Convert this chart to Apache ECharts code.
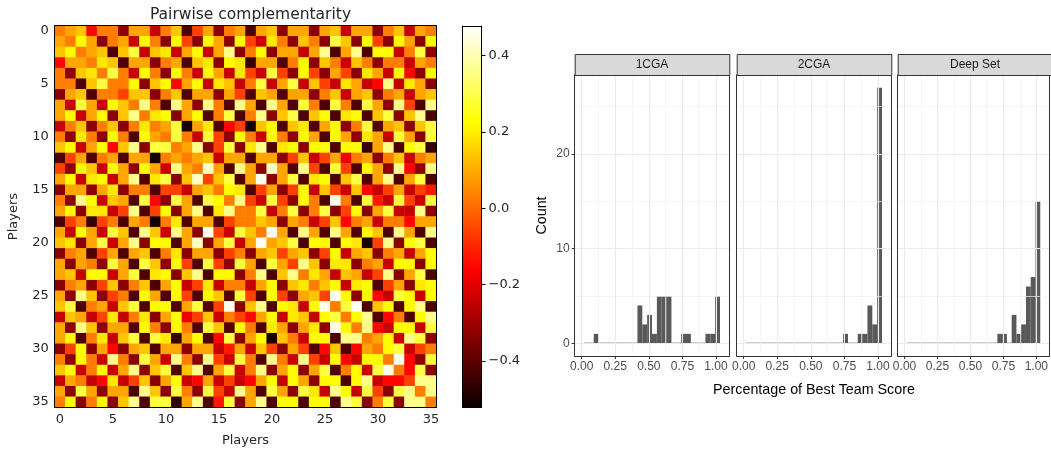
<!DOCTYPE html>
<html>
<head>
<meta charset="utf-8">
<style>html,body{margin:0;padding:0;background:#fff}#c{width:1051px;height:453px}</style>
<script src="https://cdn.jsdelivr.net/npm/echarts@6/dist/echarts.min.js"></script>
</head>
<body>
<div id="c"></div>
<script>
// Pairwise complementarity (hundredths). The matrix is symmetric: each row lists columns i..35.
const upperRows = [
[3,9,14,-15,3,3,-33,9,9,-24,3,14,-42,-6,9,-33,3,9,-42,9,14,-33,9,9,-33,9,14,-24,9,9,-33,3,14,-24,9,3],
[3,22,9,-33,3,9,-24,22,3,-33,22,-6,-33,22,9,-33,22,-6,-24,19,3,-33,14,3,-33,29,14,-33,22,-6,-33,22,9,-33,22],
[3,9,14,-42,14,29,-24,14,19,-24,9,22,-24,9,36,-33,3,22,-33,9,9,-24,9,36,-42,9,36,-42,22,22,-24,3,29,-33],
[3,19,14,-42,9,9,-33,3,9,-42,14,19,-33,22,19,-46,9,9,-42,3,22,-33,14,3,-24,14,3,-33,3,3,-24,9,3],
[3,29,3,-24,22,3,-33,22,3,-24,22,9,-24,19,-6,-24,29,-6,-33,22,-6,-33,9,-6,-33,19,9,-24,22,-15,-33,22],
[3,3,22,-33,14,22,-15,9,22,-24,19,14,-24,3,29,-24,9,29,-24,14,-6,-24,19,9,-24,-15,36,-24,19,9,-33],
[-6,14,14,-33,3,14,-42,9,9,-33,9,-6,-42,14,9,-42,9,9,-33,3,14,-24,9,14,-33,3,9,-24,9,14],
[3,36,3,-42,36,9,-33,36,3,-42,36,9,-42,36,9,-42,29,3,-42,29,3,-42,29,9,-33,36,-6,-42,36],
[3,19,22,-33,9,22,-42,3,29,-42,3,36,-33,14,29,-42,14,22,-42,19,22,-42,14,29,-33,14,36,-42],
[3,9,29,-50,9,19,-42,-15,-6,-50,14,22,-42,14,19,-42,9,22,-33,3,29,-42,9,14,-33,14,29],
[3,29,3,-24,29,-6,-33,22,3,-24,22,3,-33,22,9,-42,22,9,-33,19,9,-24,29,9,-33,29],
[3,9,36,-33,-6,29,-33,19,36,-42,19,22,-33,22,22,-42,22,22,-46,9,36,-42,22,29,-46],
[3,9,14,-24,9,9,-42,9,9,-33,-6,14,-24,-6,9,-18,3,9,-33,3,14,-24,3,9],
[3,42,9,-42,36,9,-33,42,9,-42,36,-6,-42,29,-6,-42,22,9,-33,36,-15,-33,36],
[-6,14,29,-42,9,46,-33,9,29,-42,19,22,-42,14,29,-42,9,36,-42,9,29,-42],
[3,22,19,-42,-6,9,-33,-6,22,-24,14,-6,-24,14,-15,-24,-6,9,-24,-6,-12],
[3,36,-6,-24,29,-6,-33,22,3,-42,46,3,-42,29,-12,-24,29,-6,-24,29],
[3,3,29,-24,3,29,-33,3,29,-33,-6,22,-33,9,29,-24,-24,36,-33],
[3,14,9,-33,9,3,-24,-6,14,-15,3,9,-24,3,3,-15,9,9],
[3,46,9,-42,36,9,-42,36,9,-42,22,14,-42,36,9,-42,36],
[9,14,29,-42,22,22,-42,22,19,-50,-6,36,-33,22,29,-42],
[-6,9,14,-33,-6,22,-24,9,14,-33,3,9,-24,9,22],
[-6,36,14,-33,19,19,-33,3,9,-24,22,22,-33,22],
[3,19,9,-24,14,9,-24,-6,36,-33,9,29,-42],
[3,14,22,-24,19,22,-42,-6,9,-33,19,22],
[-6,46,22,-33,22,-15,-24,29,22,-24,22],
[3,29,46,-42,14,22,-42,22,36,-42],
[3,22,36,-42,-15,3,-42,22,36],
[3,36,-15,-24,22,22,-24,29],
[3,9,22,-24,36,29,-33],
[3,22,29,-24,-6,3],
[3,46,-15,-33,29],
[3,-15,29,-33],
[-6,36,36],
[3,36],
[3]
];
const players = Array.from({length: 36}, (_, i) => String(i));
const colorbarTicks = [-0.4, -0.2, 0, 0.2, 0.4];
const colorMin = -0.522, colorMax = 0.478;

// Histograms: 28 bins
const binStart = 0.0174, binWidth = 0.03616;
const counts1CGA    = [0,0,1,0,0,0,0,0,0,0,0,4,2,3,1,5,5,5,0,0,1,1,0,0,0,1,1,5];
const counts2CGA    = [0,0,0,0,0,0,0,0,0,0,0,0,0,0,0,0,0,0,0,0,1,0,0,1,1,4,2,27];
const countsDeepSet = [0,0,0,0,0,0,0,0,0,0,0,0,0,0,0,0,0,0,0,1,1,0,3,1,2,6,7,15];
const facetNames = ['1CGA', '2CGA', 'Deep Set'];
const facetCounts = [counts1CGA, counts2CGA, countsDeepSet];
const xMajor = [0, 0.25, 0.5, 0.75, 1];
const xMinor = [0.125, 0.375, 0.625, 0.875];
const yMajor = [0, 10, 20];
const yMinor = [5, 15, 25];

function hot(t) {
  const c = v => Math.round(Math.max(0, Math.min(1, v)) * 255);
  const r = 0.0416 + t * (1 - 0.0416) / 0.365;
  const g = (t - 0.365) / 0.381;
  const b = (t - 0.746) / 0.254;
  return `rgb(${c(r)},${c(g)},${c(b)})`;
}
const hotStops = Array.from({length: 101}, (_, i) => hot(i / 100));

const heatData = [];
upperRows.forEach((row, i) => row.forEach((v, k) => {
  const j = i + k;
  heatData.push([j, i, v / 100]);
  if (j !== i) heatData.push([i, j, v / 100]);
}));

const DJ = 'DejaVu Sans', HV = 'Liberation Sans';
const heatText = '#262626';
const grid = [], xAxis = [], yAxis = [], series = [], graphic = [];

// Heat map
grid.push({left: 54.7, top: 25.7, width: 381.6, height: 381.7});
const heatLabel = {color: heatText, fontFamily: DJ, fontSize: 13, interval: 4, margin: 6};
const heatTick = {alignWithLabel: true, interval: 4, length: 4, lineStyle: {color: '#000', width: 1}};
const frame = {show: true, onZero: false, lineStyle: {color: '#000', width: 1}};
xAxis.push({gridIndex: 0, type: 'category', data: players, axisLine: frame, axisTick: heatTick, axisLabel: heatLabel,
  name: 'Players', nameLocation: 'middle', nameGap: 27, nameTextStyle: {color: heatText, fontFamily: DJ, fontSize: 13}, z: 5});
xAxis.push({gridIndex: 0, type: 'category', data: players, position: 'top', axisLine: frame, axisTick: {show: false}, axisLabel: {show: false}, z: 5});
yAxis.push({gridIndex: 0, type: 'category', data: players, inverse: true, axisLine: frame, axisTick: heatTick, axisLabel: heatLabel,
  name: 'Players', nameLocation: 'middle', nameGap: 35, nameRotate: 90, nameTextStyle: {color: heatText, fontFamily: DJ, fontSize: 13}, z: 5});
yAxis.push({gridIndex: 0, type: 'category', data: players, inverse: true, position: 'right', axisLine: frame, axisTick: {show: false}, axisLabel: {show: false}, z: 5});
series.push({type: 'heatmap', xAxisIndex: 0, yAxisIndex: 0, data: heatData, progressive: 0, animation: false, emphasis: {disabled: true}});

// Colour bar
grid.push({left: 462.5, top: 26, width: 19, height: 381.3});
xAxis.push({gridIndex: 1, type: 'value', min: 0, max: 1, position: 'top', axisLine: frame, axisTick: {show: false}, axisLabel: {show: false}, splitLine: {show: false}, z: 5});
xAxis.push({gridIndex: 1, type: 'value', min: 0, max: 1, position: 'bottom', axisLine: frame, axisTick: {show: false}, axisLabel: {show: false}, splitLine: {show: false}, z: 5});
yAxis.push({gridIndex: 1, type: 'value', min: colorMin, max: colorMax, position: 'right', axisLine: frame,
  axisTick: {customValues: colorbarTicks, length: 4, lineStyle: {color: '#000', width: 1}},
  axisLabel: {customValues: colorbarTicks, color: heatText, fontFamily: DJ, fontSize: 13, margin: 7,
    formatter: v => (v < 0 ? '\u2212' : '') + Math.abs(v).toFixed(1)}, splitLine: {show: false}, z: 5});
yAxis.push({gridIndex: 1, type: 'value', min: colorMin, max: colorMax, position: 'left', axisLine: frame, axisTick: {show: false}, axisLabel: {show: false}, splitLine: {show: false}, z: 5});
series.push({type: 'custom', xAxisIndex: 2, yAxisIndex: 2, data: [[0, colorMin, 1, colorMax]], silent: true, animation: false,
  renderItem(p, api) {
    const a = api.coord([api.value(0), api.value(3)]), b = api.coord([api.value(2), api.value(1)]);
    const stops = hotStops.map((c, i) => ({offset: 1 - i / 100, color: c}));
    return {type: 'rect', shape: {x: a[0], y: a[1], width: b[0] - a[0], height: b[1] - a[1]},
      style: {fill: new echarts.graphic.LinearGradient(0, 0, 0, 1, stops.reverse())}};
  }});

// Histogram facets
const panelLefts = [574.7, 736.7, 897.7], panelW = 154.6, panelTop = 75, panelH = 281, stripTop = 54;
const border = {show: true, onZero: false, lineStyle: {color: '#333', width: 1}};
const gMajor = {show: true, lineStyle: {color: '#ebebeb', width: 1.1}};
const gMinor = {show: true, lineStyle: {color: '#f1f1f1', width: 0.7}};
const none = {show: false};
facetNames.forEach((name, f) => {
  const g = grid.length;
  grid.push({left: panelLefts[f], top: panelTop, width: panelW, height: panelH});
  const x0 = xAxis.length, y0 = yAxis.length;
  const xRange = {gridIndex: g, type: 'value', min: -0.052, max: 1.099, z: 5};
  const yRange = {gridIndex: g, type: 'value', min: -1.34, max: 28.35, z: 5};
  const main = f === 0 ? {show: true} : none;
  xAxis.push({...xRange, position: 'bottom', axisLine: border,
    axisTick: {customValues: xMajor, length: 3, lineStyle: {color: '#333', width: 1}},
    axisLabel: {customValues: xMajor, color: '#4d4d4d', fontFamily: HV, fontSize: 12, margin: 5, hideOverlap: false, formatter: v => v.toFixed(2)},
    splitLine: gMajor,
    ...(f === 1 ? {name: 'Percentage of Best Team Score', nameLocation: 'middle', nameGap: 27, nameTextStyle: {color: '#000', fontFamily: HV, fontSize: 14.3}} : {})});
  xAxis.push({...xRange, position: 'top', axisLine: border, axisTick: {show: false, customValues: xMinor}, axisLabel: none, splitLine: gMinor});
  yAxis.push({...yRange, position: 'left', axisLine: border,
    axisTick: {show: f === 0, customValues: yMajor, length: 3, lineStyle: {color: '#333', width: 1}},
    axisLabel: {show: f === 0, customValues: yMajor, color: '#4d4d4d', fontFamily: HV, fontSize: 12, margin: 5},
    splitLine: gMajor,
    ...(f === 0 ? {name: 'Count', nameLocation: 'middle', nameGap: 26, nameRotate: 90, nameTextStyle: {color: '#000', fontFamily: HV, fontSize: 14.3}} : {})});
  yAxis.push({...yRange, position: 'right', axisLine: border, axisTick: {show: false, customValues: yMinor}, axisLabel: none, splitLine: gMinor});
  series.push({type: 'custom', xAxisIndex: x0, yAxisIndex: y0, silent: true, animation: false, clip: true,
    data: facetCounts[f].map((c, i) => [binStart + i * binWidth, binStart + (i + 1) * binWidth, c]),
    renderItem(p, api) {
      const a = api.coord([api.value(0), api.value(2)]), b = api.coord([api.value(1), 0]);
      return {type: 'rect', shape: {x: a[0], y: a[1], width: b[0] - a[0], height: b[1] - a[1]},
        style: {fill: '#595959', stroke: api.value(2) === 0 ? '#595959' : null, lineWidth: 0.9}};
    }});
  graphic.push({type: 'rect', left: panelLefts[f], top: stripTop, shape: {width: panelW, height: panelTop - stripTop},
    style: {fill: '#d9d9d9', stroke: '#333', lineWidth: 1}, z: 10});
  graphic.push({type: 'text', x: panelLefts[f] + panelW / 2, y: (stripTop + panelTop) / 2,
    style: {text: name, fill: '#1a1a1a', font: `12px "${HV}"`, align: 'center', verticalAlign: 'middle'}, z: 11});
});

const chart = echarts.init(document.getElementById('c'), null, {renderer: 'canvas'});
chart.setOption({
  animation: false,
  backgroundColor: '#fff',
  title: {text: 'Pairwise complementarity', left: 245.5, top: 2, textAlign: 'center',
    textStyle: {color: heatText, fontFamily: DJ, fontSize: 15.5, fontWeight: 'normal'}},
  grid, xAxis, yAxis, series, graphic,
  visualMap: {show: false, type: 'continuous', seriesIndex: 0, dimension: 2, min: colorMin, max: colorMax, inRange: {color: hotStops}}
});
</script>
</body>
</html>
